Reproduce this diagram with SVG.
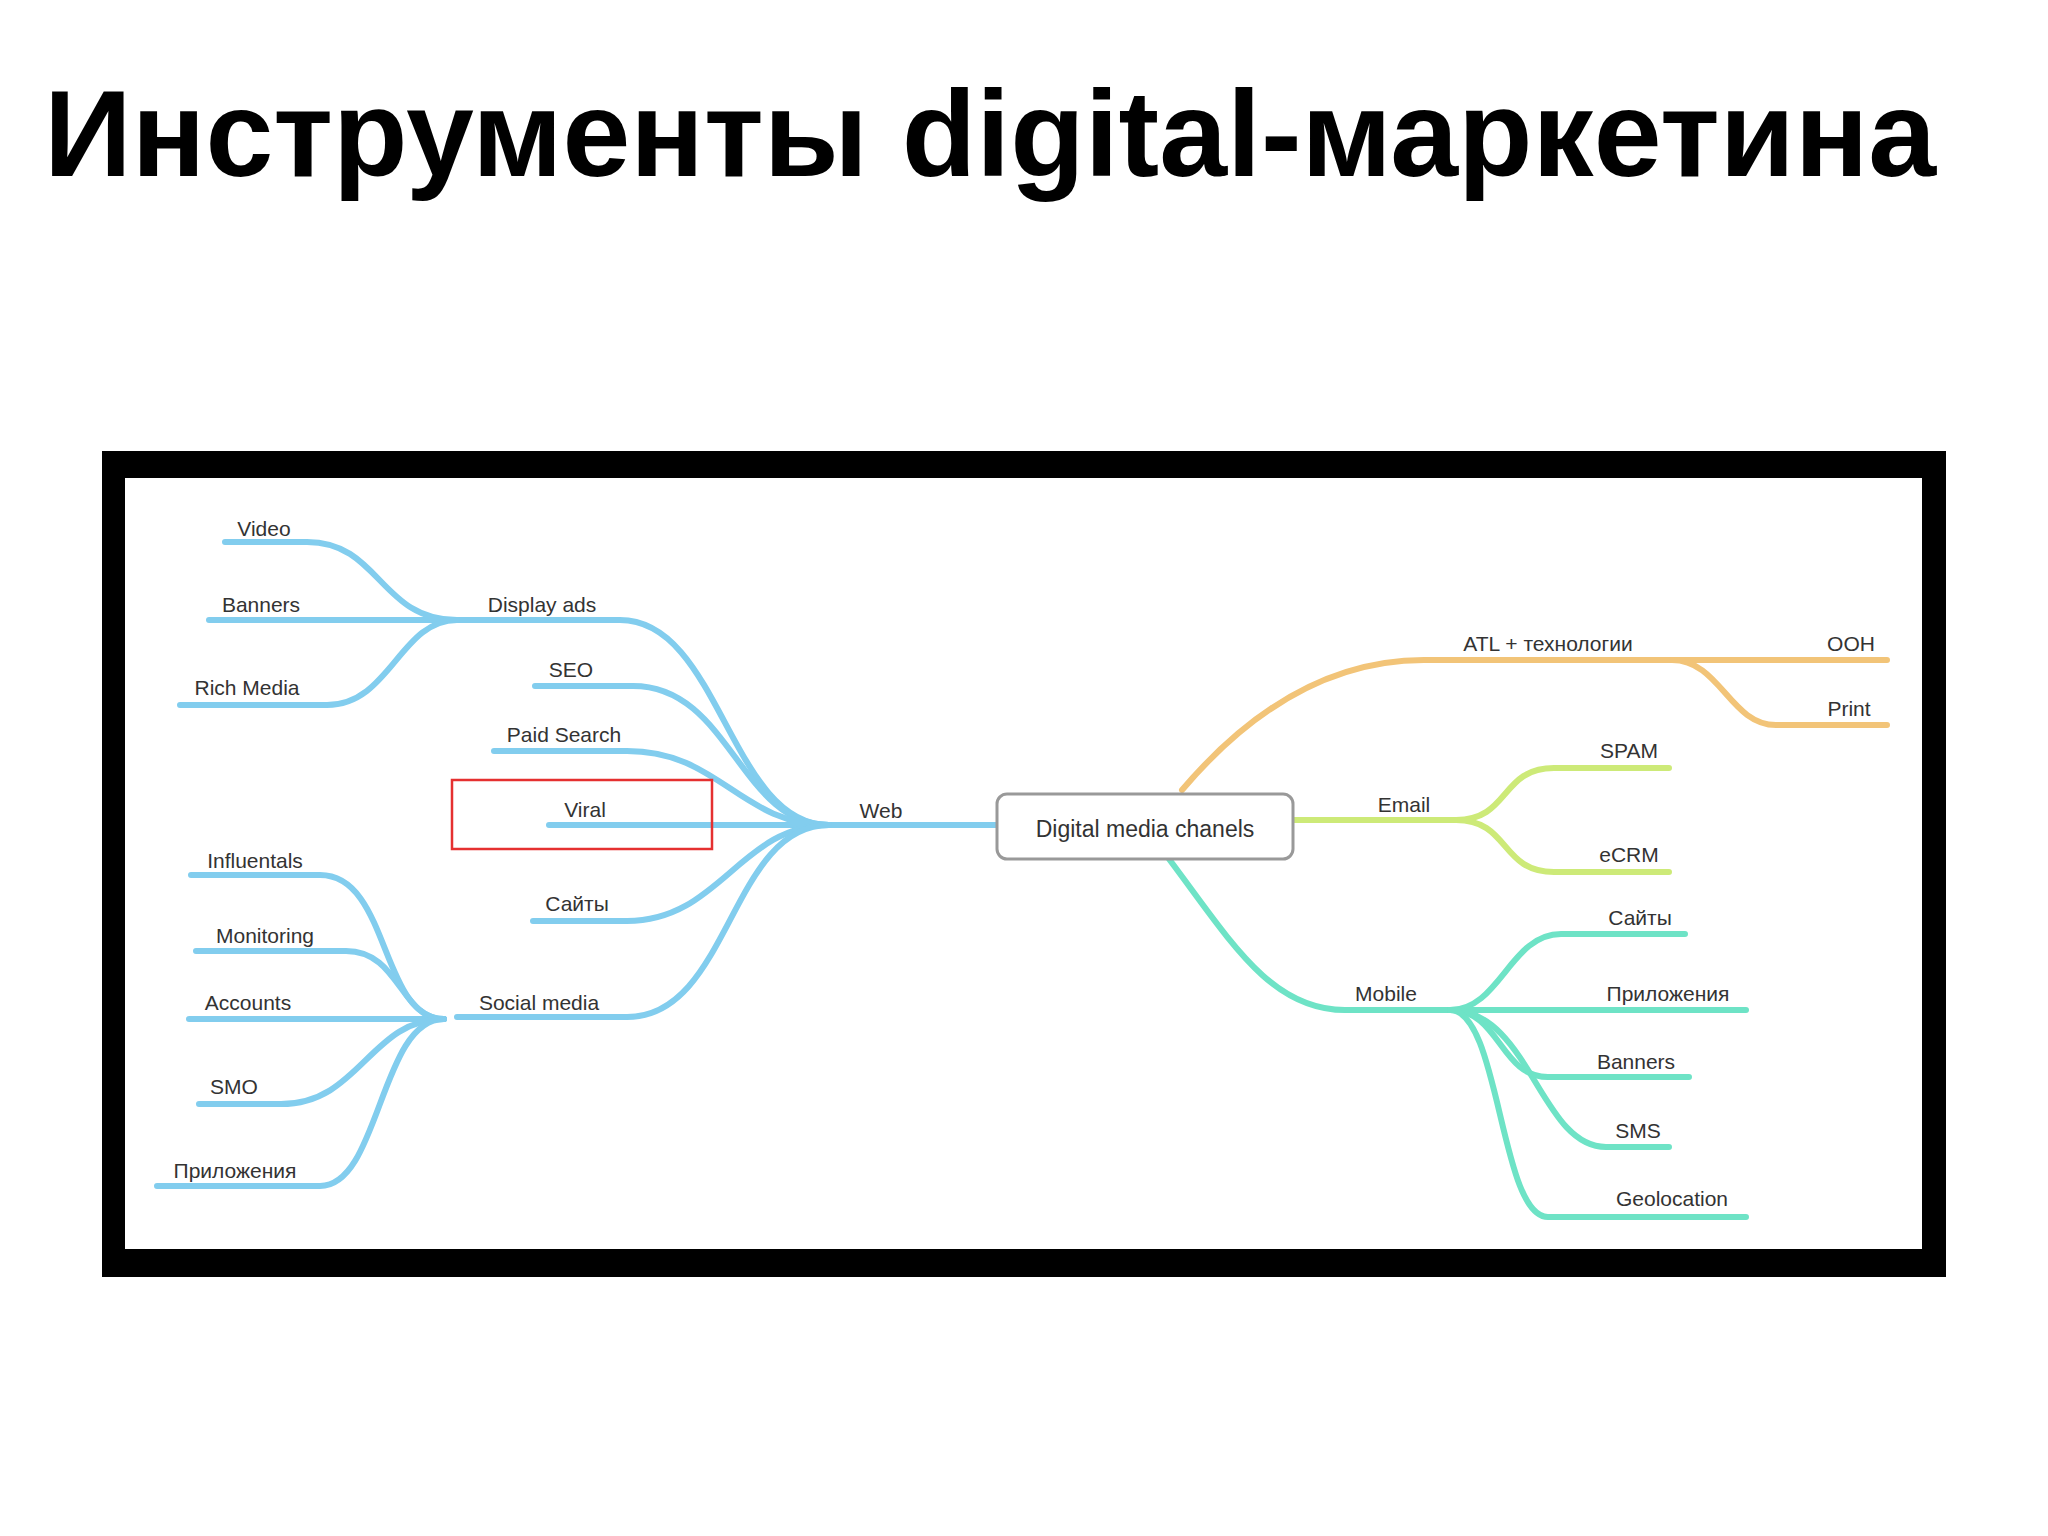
<svg xmlns="http://www.w3.org/2000/svg" width="2048" height="1536" viewBox="0 0 2048 1536">
<style>
.t{font-family:"Liberation Sans","DejaVu Sans",sans-serif;font-size:21px;fill:#333;text-anchor:middle}
.b{fill:none;stroke:#82cdee;stroke-width:6;stroke-linecap:round}
.o{fill:none;stroke:#f2c478;stroke-width:6;stroke-linecap:round}
.g{fill:none;stroke:#cdea78;stroke-width:6;stroke-linecap:round}
.m{fill:none;stroke:#6ee3c6;stroke-width:6;stroke-linecap:round}
</style>
<rect width="2048" height="1536" fill="#fff"/>
<text x="44" y="176" font-family="Liberation Sans,Arial,sans-serif" font-weight="bold" font-size="122" fill="#000">Инструменты digital-маркетина</text>
<rect x="102" y="451" width="1844" height="826" fill="#000"/>
<rect x="125" y="478" width="1797" height="771" fill="#fff"/>
<g id="connectors">
<path class="b" d="M829,825 H997"/>
<path class="b" d="M457,620 H620 C720,620 730,825 829,825"/>
<path class="b" d="M535,686 H633 C730,686 740,825 829,825"/>
<path class="b" d="M494,751 H627 C720,751 740,825 829,825"/>
<path class="b" d="M549,825 H829"/>
<path class="b" d="M533,921 H627 C720,921 740,825 829,825"/>
<path class="b" d="M457,1017 H627 C730,1017 730,825 829,825"/>
<path class="b" d="M225,542 H307 C380,542 380,620 457,620"/>
<path class="b" d="M209,620 H457"/>
<path class="b" d="M180,705 H327 C390,705 400,620 457,620"/>
<path class="b" d="M191,875 H320 C390,875 380,1019 444,1019"/>
<path class="b" d="M196,951 H346 C400,951 400,1019 444,1019"/>
<path class="b" d="M189,1019 H444"/>
<path class="b" d="M199,1104 H281 C360,1104 370,1019 444,1019"/>
<path class="b" d="M157,1186 H320 C380,1186 380,1019 444,1019"/>
<path class="o" d="M1182,790 C1250,710 1330,660 1424,660 H1887"/>
<path class="o" d="M1672,660 C1720,660 1730,725 1776,725 H1887"/>
<path class="g" d="M1293,820 H1456"/>
<path class="g" d="M1456,820 C1510,820 1500,768 1554,768 H1669"/>
<path class="g" d="M1456,820 C1510,820 1500,872 1554,872 H1669"/>
<path class="m" d="M1169,859 C1230,940 1270,1010 1345,1010 H1450"/>
<path class="m" d="M1450,1010 C1500,1010 1510,934 1561,934 H1685"/>
<path class="m" d="M1450,1010 H1746"/>
<path class="m" d="M1450,1010 C1500,1010 1500,1077 1548,1077 H1689"/>
<path class="m" d="M1450,1010 C1530,1010 1540,1147 1606,1147 H1669"/>
<path class="m" d="M1450,1010 C1500,1010 1500,1217 1548,1217 H1746"/>
</g>
<g id="center"><rect x="997" y="794" width="296" height="65" rx="10" fill="#fff" stroke="#999" stroke-width="3"/><text class="t" x="1145" y="837" style="font-size:23px">Digital media chanels</text></g>
<g id="web"><text class="t" x="881" y="818">Web</text></g>
<g id="display"><text class="t" x="542" y="612">Display ads</text></g>
<g id="seo"><text class="t" x="571" y="677">SEO</text></g>
<g id="paid"><text class="t" x="564" y="742">Paid Search</text></g>
<g id="viral"><rect x="452" y="780" width="260" height="69" fill="none" stroke="#e53030" stroke-width="2.5"/><text class="t" x="585" y="817">Viral</text></g>
<g id="sites"><text class="t" x="577" y="911">Сайты</text></g>
<g id="social"><text class="t" x="539" y="1010">Social media</text></g>
<g id="video"><text class="t" x="264" y="536">Video</text></g>
<g id="banners"><text class="t" x="261" y="612">Banners</text></g>
<g id="rich"><text class="t" x="247" y="695">Rich Media</text></g>
<g id="infl"><text class="t" x="255" y="868">Influentals</text></g>
<g id="mon"><text class="t" x="265" y="943">Monitoring</text></g>
<g id="acc"><text class="t" x="248" y="1010">Accounts</text></g>
<g id="smo"><text class="t" x="234" y="1094">SMO</text></g>
<g id="apps"><text class="t" x="235" y="1178">Приложения</text></g>
<g id="atl"><text class="t" x="1548" y="651">ATL + технологии</text></g>
<g id="ooh"><text class="t" x="1851" y="651">OOH</text></g>
<g id="print"><text class="t" x="1849" y="716">Print</text></g>
<g id="email"><text class="t" x="1404" y="812">Email</text></g>
<g id="spam"><text class="t" x="1629" y="758">SPAM</text></g>
<g id="ecrm"><text class="t" x="1629" y="862">eCRM</text></g>
<g id="mobile"><text class="t" x="1386" y="1001">Mobile</text></g>
<g id="msites"><text class="t" x="1640" y="925">Сайты</text></g>
<g id="mapps"><text class="t" x="1668" y="1001">Приложения</text></g>
<g id="mbanners"><text class="t" x="1636" y="1069">Banners</text></g>
<g id="sms"><text class="t" x="1638" y="1138">SMS</text></g>
<g id="geo"><text class="t" x="1672" y="1206">Geolocation</text></g>
</svg>
